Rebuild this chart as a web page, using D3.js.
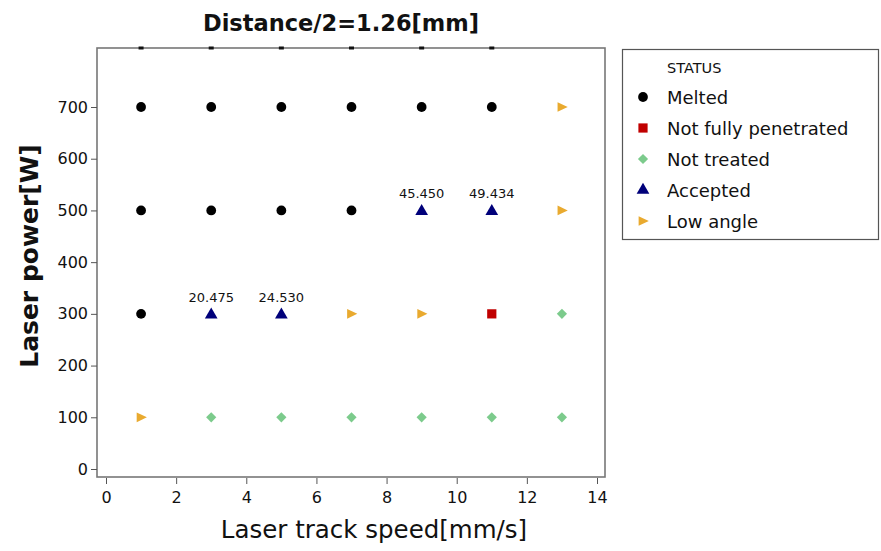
<!DOCTYPE html>
<html>
<head>
<meta charset="utf-8">
<script src="https://cdn.jsdelivr.net/npm/d3@7"></script>
<style>
  html, body { margin: 0; padding: 0; background: #fff; }
  svg { display: block; }
  text { font-family: "DejaVu Sans", sans-serif; fill: #111; }
</style>
</head>
<body>
<svg id="chart" width="881" height="551"></svg>
<script>
// Process map: laser track speed vs. laser power, grouped by result status
const statuses = ["Melted", "Not fully penetrated", "Not treated", "Accepted", "Low angle"];

const meltedSpeed = [1, 3, 5, 7, 9, 11, 1, 3, 5, 7, 1];
const meltedPower = [700, 700, 700, 700, 700, 700, 500, 500, 500, 500, 300];

const notPenetratedSpeed = [11];
const notPenetratedPower = [300];

const notTreatedSpeed = [13, 3, 5, 7, 9, 11, 13];
const notTreatedPower = [300, 100, 100, 100, 100, 100, 100];

const acceptedSpeed = [3, 5, 9, 11];
const acceptedPower = [300, 300, 500, 500];
const acceptedLabels = ["20.475", "24.530", "45.450", "49.434"];

const lowAngleSpeed = [13, 13, 7, 9, 1];
const lowAnglePower = [700, 500, 300, 300, 100];

// points that sit above the visible range, shown only as marks on the top edge
const offScaleSpeed = [1, 3, 5, 7, 9, 11];

const xTicks = [0, 2, 4, 6, 8, 10, 12, 14];
const yTicks = [0, 100, 200, 300, 400, 500, 600, 700];

const colors = {
  "Melted": "#000000",
  "Not fully penetrated": "#c00000",
  "Not treated": "#7ccb8c",
  "Accepted": "#00007a",
  "Low angle": "#e9aa2f"
};
const shapes = {
  "Melted": d3.symbolCircle,
  "Not fully penetrated": d3.symbolSquare,
  "Not treated": "diamond",
  "Accepted": d3.symbolTriangle,
  "Low angle": "right"
};
const sizes = {
  "Melted": 75,
  "Not fully penetrated": 85,
  "Not treated": 52,
  "Accepted": 70,
  "Low angle": 60
};

function zip(status, xs, ys, labels) {
  return xs.map((x, i) => ({ status, speed: x, power: ys[i], label: labels ? labels[i] : null }));
}
const points = [].concat(
  zip("Melted", meltedSpeed, meltedPower),
  zip("Not fully penetrated", notPenetratedSpeed, notPenetratedPower),
  zip("Not treated", notTreatedSpeed, notTreatedPower),
  zip("Accepted", acceptedSpeed, acceptedPower, acceptedLabels),
  zip("Low angle", lowAngleSpeed, lowAnglePower)
);

const svg = d3.select("#chart");
const frame = { left: 97, right: 605, top: 48, bottom: 477 };

const x = d3.scaleLinear().domain([0, 14]).range([106, 597]);
const y = d3.scaleLinear().domain([0, 700]).range([469, 107]);

// right-pointing triangle path
function rightTri(size) {
  const h = Math.sqrt(size) * 1.25;
  return `M${-h * 0.45},${-h / 2}L${h * 0.6},0L${-h * 0.45},${h / 2}Z`;
}
// square turned 45 degrees
function diamond(size) {
  const r = Math.sqrt(size) / Math.SQRT2;
  return `M0,${-r}L${r},0L0,${r}L${-r},0Z`;
}
function symbolPath(status) {
  const s = shapes[status];
  if (s === "right") return rightTri(sizes[status]);
  if (s === "diamond") return diamond(sizes[status]);
  return d3.symbol().type(s).size(sizes[status])();
}

// title
svg.append("text")
  .attr("x", 341).attr("y", 31)
  .attr("text-anchor", "middle")
  .style("font-weight", "bold").style("font-size", "22.5px")
  .text("Distance/2=1.26[mm]");

// plot frame
svg.append("rect")
  .attr("x", frame.left).attr("y", frame.top)
  .attr("width", frame.right - frame.left).attr("height", frame.bottom - frame.top)
  .attr("fill", "none").attr("stroke", "#777").attr("stroke-width", 1.6);

// y axis
const yAxis = svg.append("g")
  .attr("transform", `translate(${frame.left},0)`)
  .call(d3.axisLeft(y).tickValues(yTicks).tickSize(6).tickPadding(3));
yAxis.select(".domain").remove();
yAxis.selectAll(".tick line").attr("stroke", "#555");
yAxis.selectAll(".tick text").style("font-size", "16px").attr("fill", "#111");

// x axis
const xAxis = svg.append("g")
  .attr("transform", `translate(0,${frame.bottom + 1})`)
  .call(d3.axisBottom(x).tickValues(xTicks).tickSize(6).tickPadding(8));
xAxis.select(".domain").remove();
xAxis.selectAll(".tick line").attr("stroke", "#555");
xAxis.selectAll(".tick text").style("font-size", "16px").attr("fill", "#111");

// axis titles
svg.append("text")
  .attr("transform", `translate(38,256) rotate(-90)`)
  .attr("text-anchor", "middle")
  .style("font-weight", "bold").style("font-size", "25px")
  .text("Laser power[W]");

svg.append("text")
  .attr("x", 374).attr("y", 538)
  .attr("text-anchor", "middle")
  .style("font-size", "24.5px")
  .text("Laser track speed[mm/s]");

// off-scale markers on the top edge
svg.append("g").selectAll("rect")
  .data(offScaleSpeed)
  .join("rect")
  .attr("x", d => x(d) - 2.5).attr("y", frame.top - 1.5)
  .attr("width", 5).attr("height", 3)
  .attr("fill", "#111");

// data points
svg.append("g").selectAll("path")
  .data(points)
  .join("path")
  .attr("transform", d => `translate(${x(d.speed)},${y(d.power) + (d.status === "Accepted" ? 1 : 0)})`)
  .attr("d", d => symbolPath(d.status))
  .attr("fill", d => colors[d.status]);

// value labels for accepted runs
svg.append("g").selectAll("text")
  .data(points.filter(d => d.label))
  .join("text")
  .attr("x", d => x(d.speed))
  .attr("y", d => y(d.power) - 12)
  .attr("text-anchor", "middle")
  .style("font-size", "13px").attr("fill", "#222")
  .text(d => d.label);

// legend
const legend = svg.append("g");
legend.append("rect")
  .attr("x", 622.5).attr("y", 49.5).attr("width", 256).attr("height", 190)
  .attr("fill", "#fff").attr("stroke", "#555").attr("stroke-width", 1.2);
legend.append("text")
  .attr("x", 667).attr("y", 73)
  .style("font-size", "14.5px").attr("fill", "#111")
  .text("STATUS");
const ly = d3.scalePoint().domain(statuses).range([97, 221]);
const items = legend.selectAll("g.item").data(statuses).join("g")
  .attr("class", "item")
  .attr("transform", d => `translate(0,${ly(d)})`);
items.append("path")
  .attr("transform", "translate(643,0)")
  .attr("d", d => symbolPath(d))
  .attr("fill", d => colors[d]);
items.append("text")
  .attr("x", 667).attr("y", 7)
  .style("font-size", "18px").attr("fill", "#111")
  .text(d => d);
</script>
</body>
</html>
